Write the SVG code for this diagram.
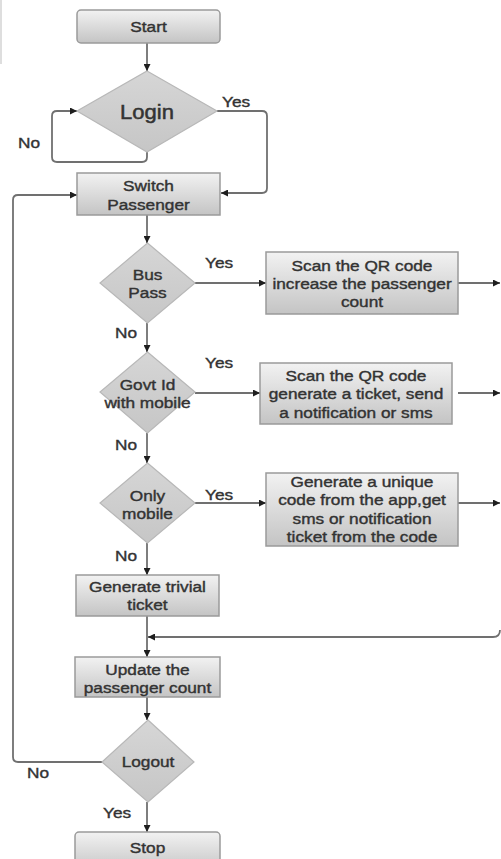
<svg xmlns="http://www.w3.org/2000/svg" width="501" height="859" viewBox="0 0 501 859">
  <style>
    .box { fill: url(#boxGrad); stroke: #9a9a9a; stroke-width: 1.5; }
    .dia { fill: url(#diaGrad); stroke: #b8b8b8; stroke-width: 1.2; }
    .t { font-family: "Liberation Sans", Arial, sans-serif; font-size: 15px; fill: #333333; stroke: #333333; stroke-width: 0.4; text-anchor: middle; }
    .lbl { font-family: "Liberation Sans", Arial, sans-serif; font-size: 15px; fill: #333333; stroke: #333333; stroke-width: 0.4; }
    .c { fill: none; stroke: #707070; stroke-width: 1.8; }
  </style>
  <defs>
    <linearGradient id="boxGrad" x1="0" y1="0" x2="0" y2="1">
      <stop offset="0" stop-color="#f2f2f2"/>
      <stop offset="1" stop-color="#c4c4c4"/>
    </linearGradient>
    <linearGradient id="diaGrad" x1="0" y1="0" x2="0" y2="1">
      <stop offset="0" stop-color="#d6d6d6"/>
      <stop offset="1" stop-color="#c6c6c6"/>
    </linearGradient>
    <marker id="arr" viewBox="0 0 10 10" refX="10" refY="5" markerWidth="7" markerHeight="7" markerUnits="userSpaceOnUse" orient="auto">
      <path d="M0,0 L10,5 L0,10 z" fill="#1e1e1e"/>
    </marker>
  </defs>

  <rect width="501" height="859" fill="#ffffff"/>
  <!-- trimmed page edge -->
  <line x1="1" y1="0" x2="1" y2="64" stroke="#c8c8c8" stroke-width="1.2"/>

  <g id="connectors">
    <path class="c" d="M147,43 V71" marker-end="url(#arr)"/>
    <path class="c" d="M217,111 H262 Q267,111 267,116 V188 Q267,193 262,193 H221" marker-end="url(#arr)"/>
    <path class="c" d="M147,152 V157 Q147,162 142,162 H57 Q52,162 52,157 V116 Q52,111 57,111 H77" marker-end="url(#arr)"/>
    <path class="c" d="M147,215 V243" marker-end="url(#arr)"/>
    <path class="c" d="M195,283 H266" marker-end="url(#arr)"/>
    <path class="c" d="M458,283 H500" marker-end="url(#arr)"/>
    <path class="c" d="M147,323 V352" marker-end="url(#arr)"/>
    <path class="c" d="M195,393 H260" marker-end="url(#arr)"/>
    <path class="c" d="M458,393 H500" marker-end="url(#arr)"/>
    <path class="c" d="M147,433 V463" marker-end="url(#arr)"/>
    <path class="c" d="M195,503 H266" marker-end="url(#arr)"/>
    <path class="c" d="M458,503 H500" marker-end="url(#arr)"/>
    <path class="c" d="M147,543 V575" marker-end="url(#arr)"/>
    <path class="c" d="M147,616 V657" marker-end="url(#arr)"/>
    <path class="c" d="M500,630 Q500,637 493,637 H148" marker-end="url(#arr)"/>
    <path class="c" d="M147,697 V720" marker-end="url(#arr)"/>
    <path class="c" d="M102,762 H18 Q13,762 13,757 V200 Q13,195 18,195 H77" marker-end="url(#arr)"/>
    <path class="c" d="M147,802 V832" marker-end="url(#arr)"/>
  </g>

  <g id="labels">
    <text class="lbl" transform="matrix(1.15 0 0 1 222 107)">Yes</text>
    <text class="lbl" transform="matrix(1.15 0 0 1 18 148)">No</text>
    <text class="lbl" transform="matrix(1.15 0 0 1 205 268)">Yes</text>
    <text class="lbl" transform="matrix(1.15 0 0 1 115 338)">No</text>
    <text class="lbl" transform="matrix(1.15 0 0 1 205 368)">Yes</text>
    <text class="lbl" transform="matrix(1.15 0 0 1 115 450)">No</text>
    <text class="lbl" transform="matrix(1.15 0 0 1 205 500)">Yes</text>
    <text class="lbl" transform="matrix(1.15 0 0 1 115 561)">No</text>
    <text class="lbl" transform="matrix(1.15 0 0 1 27 778)">No</text>
    <text class="lbl" transform="matrix(1.15 0 0 1 103 818)">Yes</text>
  </g>

  <g id="start">
    <rect class="box" x="77" y="10" width="143" height="33" rx="4"/>
    <text class="t" transform="matrix(1.15 0 0 1 148.5 32)">Start</text>
  </g>

  <g id="login">
    <polygon class="dia" points="147,71 217,111 147,152 77,111"/>
    <text class="t" style="font-size:20px; stroke-width:0.5" transform="matrix(1.1 0 0 1 147 119)">Login</text>
  </g>

  <g id="switch-passenger">
    <rect class="box" x="77" y="173" width="143" height="42"/>
    <text class="t" transform="matrix(1.15 0 0 1 148.5 191)">Switch</text>
    <text class="t" transform="matrix(1.15 0 0 1 148.5 210)">Passenger</text>
  </g>

  <g id="bus-pass">
    <polygon class="dia" points="147.5,243 195,283 147.5,323 100,283"/>
    <text class="t" transform="matrix(1.15 0 0 1 147.5 280)">Bus</text>
    <text class="t" transform="matrix(1.15 0 0 1 147.5 298)">Pass</text>
  </g>

  <g id="scan-count">
    <rect class="box" x="266" y="252" width="192" height="62"/>
    <text class="t" transform="matrix(1.15 0 0 1 362 271)">Scan the QR code</text>
    <text class="t" transform="matrix(1.15 0 0 1 362 289)">increase the passenger</text>
    <text class="t" transform="matrix(1.15 0 0 1 362 307)">count</text>
  </g>

  <g id="govt-id">
    <polygon class="dia" points="147.5,352 195,392 147.5,433 100,392"/>
    <text class="t" transform="matrix(1.15 0 0 1 147.5 390)">Govt Id</text>
    <text class="t" transform="matrix(1.15 0 0 1 147.5 408)">with mobile</text>
  </g>

  <g id="scan-ticket">
    <rect class="box" x="260" y="363" width="192" height="61"/>
    <text class="t" transform="matrix(1.15 0 0 1 356 381)">Scan the QR code</text>
    <text class="t" transform="matrix(1.15 0 0 1 356 399)">generate a ticket, send</text>
    <text class="t" transform="matrix(1.15 0 0 1 356 418)">a notification or sms</text>
  </g>

  <g id="only-mobile">
    <polygon class="dia" points="147.5,463 195,503 147.5,543 100,503"/>
    <text class="t" transform="matrix(1.15 0 0 1 147.5 501)">Only</text>
    <text class="t" transform="matrix(1.15 0 0 1 147.5 519)">mobile</text>
  </g>

  <g id="unique-code">
    <rect class="box" x="266" y="473" width="192" height="73"/>
    <text class="t" transform="matrix(1.15 0 0 1 362 487)">Generate a unique</text>
    <text class="t" transform="matrix(1.15 0 0 1 362 505)">code from the app,get</text>
    <text class="t" transform="matrix(1.15 0 0 1 362 524)">sms or notification</text>
    <text class="t" transform="matrix(1.15 0 0 1 362 542)">ticket from the code</text>
  </g>

  <g id="trivial-ticket">
    <rect class="box" x="76" y="575" width="143" height="41"/>
    <text class="t" transform="matrix(1.15 0 0 1 147.5 592)">Generate trivial</text>
    <text class="t" transform="matrix(1.15 0 0 1 147.5 610)">ticket</text>
  </g>

  <g id="update-count">
    <rect class="box" x="75" y="657" width="145" height="40"/>
    <text class="t" transform="matrix(1.15 0 0 1 147.5 675)">Update the</text>
    <text class="t" transform="matrix(1.15 0 0 1 147.5 693)">passenger count</text>
  </g>

  <g id="logout">
    <polygon class="dia" points="148,720 194,762 148,802 102,762"/>
    <text class="t" transform="matrix(1.15 0 0 1 148 767)">Logout</text>
  </g>

  <g id="stop">
    <rect class="box" x="75" y="832" width="145" height="40" rx="4"/>
    <text class="t" transform="matrix(1.15 0 0 1 147.5 853)">Stop</text>
  </g>
</svg>
